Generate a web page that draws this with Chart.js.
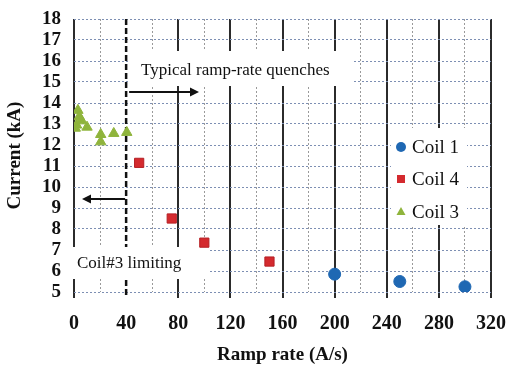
<!DOCTYPE html>
<html>
<head>
<meta charset="utf-8">
<script src="https://cdn.jsdelivr.net/npm/chart.js@4/dist/chart.umd.min.js"></script>
<style>
  html, body { margin: 0; padding: 0; background: #fff; }
  #wrap { width: 510px; height: 366px; position: relative; }
</style>
</head>
<body>
<div id="wrap"><canvas id="chart"></canvas></div>
<script>
// values
const coil1X = [200, 250, 300];
const coil1Y = [5.85, 5.5, 5.25];
const coil4X = [50, 75, 100, 150];
const coil4Y = [11.15, 8.5, 7.35, 6.45];
const coil3X = [1, 3, 4, 2, 6, 10, 20.5, 20.5, 30.5, 40.5];
const coil3Y = [12.8, 13.65, 13.35, 12.95, 13.15, 12.85, 12.5, 12.15, 12.55, 12.6];

const xTicks = [0, 40, 80, 120, 160, 200, 240, 280, 320];
const yMin = 5, yMax = 18;
const seriesNames = ['Coil 1', 'Coil 4', 'Coil 3'];

const serif = '"Liberation Serif", "DejaVu Serif", serif';
const toPts = (xs, ys) => xs.map((x, i) => ({ x: x, y: ys[i] }));

// arrows, dashed limit line, white label boxes and legend
const annotations = {
    id: 'annotations',
    beforeDatasetsDraw(chart) {
        const ctx = chart.ctx;
        const x = chart.scales.x, y = chart.scales.y;
        const xl = x.getPixelForValue(40);

        // dashed limit at 40 A/s
        ctx.save();
        ctx.strokeStyle = '#111';
        ctx.lineWidth = 2.5;
        ctx.setLineDash([6, 3]);
        ctx.beginPath();
        ctx.moveTo(xl, y.getPixelForValue(yMax));
        ctx.lineTo(xl, y.getPixelForValue(yMin) + 6);
        ctx.stroke();
        ctx.setLineDash([]);

        // white boxes behind text
        ctx.fillStyle = '#fff';
        ctx.fillRect(xl + 2, 51, 225, 35);
        ctx.fillRect(72, 247, 136, 32);
        ctx.fillRect(391, 128, 76, 97);

        ctx.fillStyle = '#111';
        ctx.font = '17px ' + serif;
        ctx.textBaseline = 'middle';
        ctx.textAlign = 'left';
        ctx.fillText('Typical ramp-rate quenches', 141, 71);
        ctx.fillText('Coil#3 limiting', 77, 264);

        // arrows
        const arrow = (x0, x1, yy) => {
            const dir = Math.sign(x1 - x0);
            ctx.strokeStyle = '#111';
            ctx.lineWidth = 2;
            ctx.beginPath();
            ctx.moveTo(x0, yy);
            ctx.lineTo(x1 - dir * 2, yy);
            ctx.stroke();
            ctx.beginPath();
            ctx.moveTo(x1, yy);
            ctx.lineTo(x1 - dir * 9, yy - 4.5);
            ctx.lineTo(x1 - dir * 9, yy + 4.5);
            ctx.closePath();
            ctx.fill();
        };
        arrow(xl + 3, 199, 92);
        arrow(xl - 1, 82, 199);
        ctx.restore();
    },
    afterDatasetsDraw(chart) {
        const ctx = chart.ctx;
        ctx.save();
        ctx.font = '19px ' + serif;
        ctx.textBaseline = 'middle';
        ctx.fillStyle = '#111';
        const rows = [147, 179, 212];
        chart.data.datasets.forEach((ds, i) => {
            const cy = rows[i], cx = 401;
            ctx.fillStyle = ds.backgroundColor;
            ctx.beginPath();
            if (ds.pointStyle === 'circle') {
                ctx.arc(cx, cy, 5, 0, Math.PI * 2);
            } else if (ds.pointStyle === 'rect') {
                ctx.rect(cx - 4, cy - 4, 8, 8);
            } else {
                ctx.moveTo(cx, cy - 5);
                ctx.lineTo(cx + 4.5, cy + 3);
                ctx.lineTo(cx - 4.5, cy + 3);
                ctx.closePath();
            }
            ctx.fill();
            ctx.fillStyle = '#111';
            ctx.fillText(ds.label, 412, cy + 1);
        });
        ctx.restore();
    }
};

const isMajor = v => v % 40 === 0;

new Chart(document.getElementById('chart'), {
    type: 'scatter',
    data: {
        datasets: [
            {
                label: seriesNames[0],
                data: toPts(coil1X, coil1Y),
                pointStyle: 'circle',
                backgroundColor: '#1f68b3',
                borderColor: '#1f68b3',
                pointRadius: 6
            },
            {
                label: seriesNames[1],
                data: toPts(coil4X, coil4Y),
                pointStyle: 'rect',
                backgroundColor: '#d42a2e',
                borderColor: '#b51f24',
                borderWidth: 1,
                pointRadius: 6.5
            },
            {
                label: seriesNames[2],
                data: toPts(coil3X, coil3Y),
                pointStyle: 'triangle',
                backgroundColor: '#8fb43c',
                borderColor: '#8fb43c',
                pointRadius: 6
            }
        ]
    },
    options: {
        responsive: true,
        maintainAspectRatio: false,
        animation: false,
        layout: { padding: { top: 19, right: 19, left: 0, bottom: 0 } },
        plugins: {
            legend: { display: false },
            tooltip: { enabled: false }
        },
        scales: {
            x: {
                type: 'linear',
                min: 0,
                max: 320,
                afterFit: s => {
                    s.height = 74;
                    s.paddingLeft = 0;
                    s.paddingRight = 0;
                },
                afterBuildTicks: s => {
                    const t = [];
                    for (let v = 0; v <= 320; v += 20) t.push({ value: v });
                    s.ticks = t;
                },
                ticks: {
                    callback: v => (xTicks.includes(v) ? String(v) : ''),
                    autoSkip: false,
                    maxRotation: 0,
                    padding: 14,
                    color: '#111',
                    font: { family: serif, size: 20, weight: 'bold' }
                },
                grid: {
                    color: c => (c.tick.value === 40 ? 'rgba(0,0,0,0)' : isMajor(c.tick.value) ? '#2b2b2b' : '#9a9a9a'),
                    lineWidth: c => (isMajor(c.tick.value) ? 2 : 1),
                    tickColor: c => (isMajor(c.tick.value) && c.tick.value !== 40 ? '#2b2b2b' : 'rgba(0,0,0,0)'),
                    tickLength: 6,
                    tickWidth: 2
                },
                border: {
                    display: false,
                    dash: c => (isMajor(c.tick.value) ? [] : [2, 2])
                },
                title: {
                    display: true,
                    text: 'Ramp rate (A/s)',
                    color: '#111',
                    padding: { top: 0, bottom: 0 },
                    font: { family: serif, size: 19, weight: 'bold' }
                }
            },
            y: {
                min: yMin,
                max: yMax,
                afterFit: s => {
                    s.width = 74;
                    s.paddingTop = 0;
                    s.paddingBottom = 0;
                },
                ticks: {
                    stepSize: 1,
                    autoSkip: false,
                    padding: 13,
                    color: '#111',
                    font: { family: serif, size: 19, weight: 'bold' }
                },
                grid: {
                    color: '#7d8fb3',
                    lineWidth: 1,
                    drawTicks: false
                },
                border: { display: false, dash: [2, 2] },
                title: {
                    display: true,
                    text: 'Current (kA)',
                    color: '#111',
                    padding: { top: 4, bottom: 0 },
                    font: { family: serif, size: 19, weight: 'bold' }
                }
            }
        }
    },
    plugins: [annotations]
});
</script>
</body>
</html>
